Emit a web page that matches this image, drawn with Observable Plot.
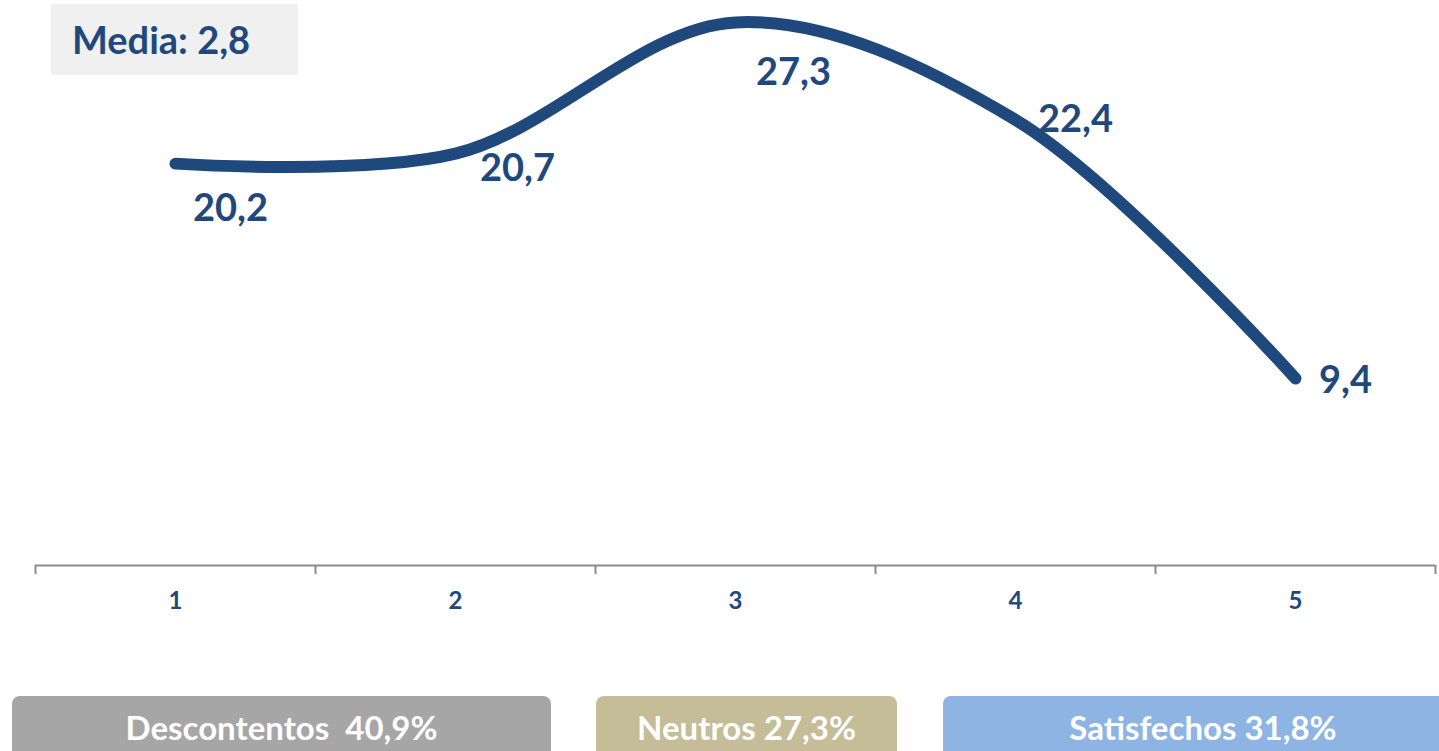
<!DOCTYPE html>
<html>
<head>
<meta charset="utf-8">
<script src="https://cdn.jsdelivr.net/npm/d3@7"></script>
<script src="https://cdn.jsdelivr.net/npm/@observablehq/plot@0.6"></script>
<style>
  html, body { margin: 0; padding: 0; background: #fff; }
  body { width: 1439px; height: 751px; position: relative; overflow: hidden; font-family: Lato, "Open Sans", sans-serif; }
  #chart { position: absolute; left: 0; top: 0; }
  .media { position: absolute; left: 51px; top: 4px; width: 247px; height: 71px; background: #f0f0f0;
           color: #1f497d; font-weight: 700; font-size: 38px; line-height: 71px; box-sizing: border-box; padding-left: 21px; }
  .leg { position: absolute; top: 696px; height: 70px; border-radius: 8px; color: #fff; font-weight: 700;
         font-size: 33px; text-align: center; line-height: 62px; white-space: pre; }
</style>
</head>
<body>
<div id="chart"></div>
<div class="media" id="media"></div>
<div id="legend"></div>
<script>
const categories = [1, 2, 3, 4, 5];
const values = [20.2, 20.7, 27.3, 22.4, 9.4];
const valueLabels = ["20,2", "20,7", "27,3", "22,4", "9,4"];
const mediaLabel = "Media: 2,8";
const groupNames = ["Descontentos  40,9%", "Neutros 27,3%", "Satisfechos 31,8%"];
const groupColors = ["#a6a6a6", "#c4bd97", "#8eb4e3"];

const data = categories.map((c, i) => ({x: c, y: values[i], label: valueLabels[i]}));
const boundaries = [...categories.map(c => c - 0.5), categories[categories.length - 1] + 0.5];

const navy = "#1f497d";
// label offsets (style only)
const offsets = [[55, 45], [62, 15], [58, 50], [60, 0], [50, 2]];

const plot = Plot.plot({
  width: 1439,
  height: 640,
  marginLeft: 35,
  marginRight: 4,
  marginTop: 0,
  marginBottom: 75,
  x: {type: "linear", domain: [0.5, 5.5]},
  y: {domain: [0, 28.4], axis: null},
  style: {fontFamily: "Lato, 'Open Sans', sans-serif", background: "transparent"},
  marks: [
    Plot.ruleY([0], {stroke: "#8c8c8c", strokeWidth: 2}),
    Plot.axisX({ticks: boundaries, tickSize: 9, tickFormat: () => "", stroke: "#8c8c8c", strokeWidth: 2, strokeOpacity: 1, label: null}),
    Plot.axisX({ticks: categories, tickSize: 0, tickPadding: 26, tickFormat: d => String(d), fill: navy, fontSize: 24, fontWeight: 700, label: null}),
    Plot.line(data, {x: "x", y: "y", stroke: navy, strokeWidth: 12, curve: "catmull-rom", strokeLinecap: "round", strokeLinejoin: "round"}),
    ...data.map((d, i) => Plot.text([d], {x: "x", y: "y", text: "label", dx: offsets[i][0], dy: offsets[i][1],
      fill: navy, fontSize: 38, fontWeight: 700}))
  ]
});
document.getElementById("chart").appendChild(plot);
document.getElementById("media").textContent = mediaLabel;

const legPos = [[12, 539], [596, 301], [943, 520]];
const legend = document.getElementById("legend");
groupNames.forEach((n, i) => {
  const d = document.createElement("div");
  d.className = "leg";
  d.style.left = legPos[i][0] + "px";
  d.style.width = legPos[i][1] + "px";
  d.style.background = groupColors[i];
  d.textContent = n;
  legend.appendChild(d);
});
</script>
</body>
</html>
